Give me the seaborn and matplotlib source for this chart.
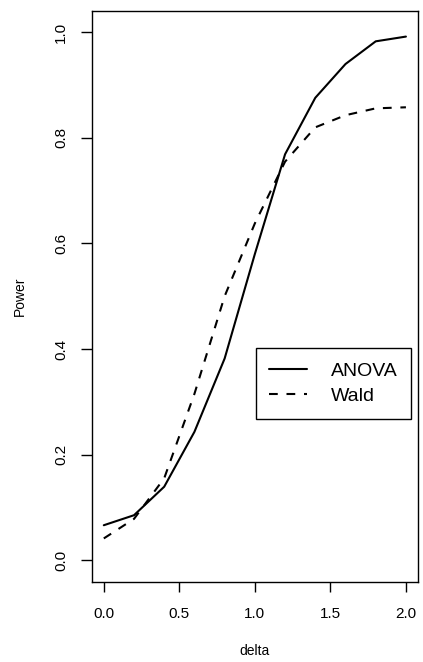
import numpy as np
import pandas as pd
import matplotlib
matplotlib.use("Agg")
import matplotlib.pyplot as plt
import seaborn as sns
from matplotlib.lines import Line2D

# Data
delta = [0.0, 0.2, 0.4, 0.6, 0.8, 1.0, 1.2, 1.4, 1.6, 1.8, 2.0]
anova = [0.066, 0.085, 0.139, 0.243, 0.382, 0.580, 0.769, 0.876, 0.940, 0.983, 0.992]
wald = [0.041, 0.078, 0.155, 0.315, 0.500, 0.638, 0.755, 0.820, 0.843, 0.856, 0.858]
methods = ["ANOVA", "Wald"]
x_ticks = [0.0, 0.5, 1.0, 1.5, 2.0]
y_ticks = [0.0, 0.2, 0.4, 0.6, 0.8, 1.0]

df = pd.DataFrame({
    "delta": delta * 2,
    "Power": anova + wald,
    "method": [methods[0]] * len(delta) + [methods[1]] * len(delta),
})

sns.set_style("ticks")
plt.rcParams["font.family"] = ["Liberation Sans", "DejaVu Sans"]
plt.rcParams["text.color"] = "black"
plt.rcParams["axes.labelcolor"] = "black"
plt.rcParams["xtick.color"] = "black"
plt.rcParams["ytick.color"] = "black"

fig = plt.figure(figsize=(4.23, 6.62), dpi=100)
ax = fig.add_axes([0.2168, 0.1213, 0.9882 - 0.2168, 0.9838 - 0.1213])

dash = (4.2, 4.2)
sns.lineplot(data=df, x="delta", y="Power", style="method",
             dashes={"ANOVA": "", "Wald": dash}, color="black",
             linewidth=1.5, ax=ax, legend=False)

ax.set_xlim(-0.08, 2.08)
ax.set_ylim(-0.041, 1.041)
ax.set_xticks(x_ticks)
ax.set_xticklabels([f"{v:.1f}" for v in x_ticks])
ax.set_yticks(y_ticks)
ax.set_yticklabels([f"{v:.1f}" for v in y_ticks], rotation=90, va="center", ha="right")

for s in ax.spines.values():
    s.set_visible(True)
    s.set_linewidth(1.0)
    s.set_color("black")

ax.tick_params(axis="x", length=7.5, width=1.0, pad=10.5, labelsize=11,
               color="black", labelcolor="black")
ax.tick_params(axis="y", length=7.8, width=1.0, pad=9.0, labelsize=11,
               color="black", labelcolor="black")

ax.set_xlabel("delta", fontsize=10, color="black")
ax.set_ylabel("Power", fontsize=10, color="black")
ax.xaxis.set_label_coords(0.5, -0.1214)
ax.xaxis.label.set_va("center")
ax.yaxis.set_label_coords(-0.2197, 0.5)
ax.yaxis.label.set_va("center")

handles = [Line2D([0], [0], color="black", lw=1.5),
           Line2D([0], [0], color="black", lw=1.5, dashes=dash)]
leg = ax.legend(handles, methods, loc="upper right",
                bbox_to_anchor=(0.9786, 0.4088), bbox_transform=ax.transAxes,
                borderaxespad=0, fancybox=False, framealpha=1, edgecolor="black",
                fontsize=14, handlelength=1.95, handletextpad=1.2,
                borderpad=0.7, labelspacing=0.4)
leg.get_frame().set_linewidth(1.0)
for t in leg.get_texts():
    t.set_color("black")

fig.savefig("out.png", dpi=100)
